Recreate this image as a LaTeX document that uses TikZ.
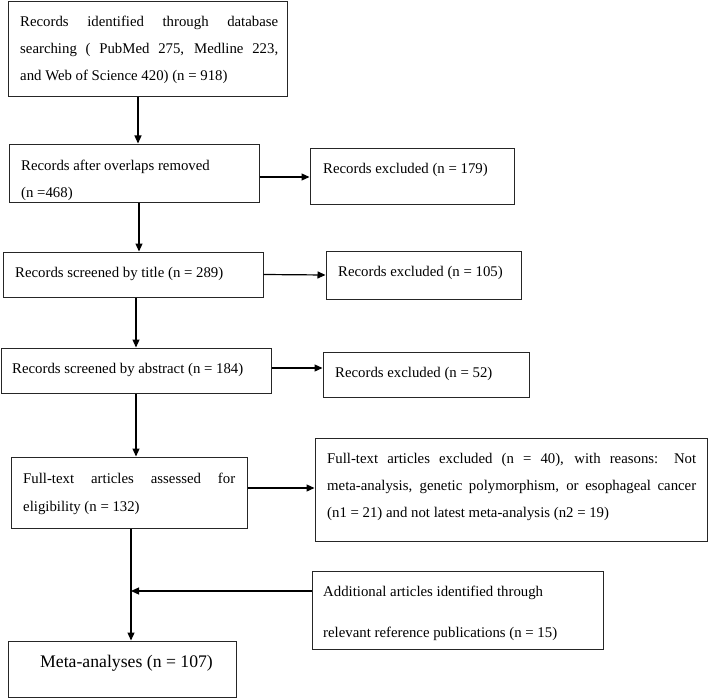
\documentclass[tikz,border=0pt]{standalone}
\usepackage{fontspec}
\setmainfont{Liberation Serif}
\usetikzlibrary{arrows.meta}
\newcommand{\jpar}[2]{\vtop{\hsize=#1\relax\parindent=0pt\tolerance=10000\hyphenpenalty=10000\rightskip=0pt\noindent #2}}
\tikzset{
  box/.style={draw=black!85, line width=1pt, inner sep=0pt, fill=none},
  txt/.style={inner sep=0pt, anchor=base west, font=\fontsize{14.8}{27}\selectfont},
  arr/.style={draw=black, line width=1.2pt, -{Triangle[length=8pt,width=7pt]}},
}
\begin{document}
\begin{tikzpicture}[x=1pt,y=-1pt]
\useasboundingbox (0,0) rectangle (709,698);
% boxes
\node[box, minimum width=279pt, minimum height=95pt] (b1) at (147.5,49.5) {};
\node[box, minimum width=250pt, minimum height=58pt] (b2) at (134,173) {};
\node[box, minimum width=204pt, minimum height=56pt] (b3) at (412,176) {};
\node[box, minimum width=260pt, minimum height=45pt] (b4) at (133,274.5) {};
\node[box, minimum width=195pt, minimum height=48pt] (b5) at (423.5,275) {};
\node[box, minimum width=270pt, minimum height=45pt] (b6) at (136,370.5) {};
\node[box, minimum width=206pt, minimum height=45pt] (b7) at (426,374.5) {};
\node[box, minimum width=236pt, minimum height=71pt] (b8) at (129,492.5) {};
\node[box, minimum width=392pt, minimum height=103pt] (b11) at (511,489.5) {};
\node[box, minimum width=291pt, minimum height=78pt] (b10) at (457.5,610) {};
\node[box, minimum width=228pt, minimum height=56pt] (b9) at (122,669) {};
% texts
\node[txt] (t1) at (20,27) {\jpar{258pt}{Records identified through database\linebreak searching ( PubMed 275, Medline 223,\linebreak and Web of Science 420) (n = 918)}};
\node[txt] (t2) at (21,170) {\jpar{236pt}{Records after overlaps removed\newline (n =468)}};
\node[txt] (t3) at (323,173) {Records excluded (n = 179)};
\node[txt] (t4) at (15,277) {Records screened by title (n = 289)};
\node[txt] (t5) at (338,276) {Records excluded (n = 105)};
\node[txt] (t6) at (12,373) {Records screened by abstract (n = 184)};
\node[txt] (t7) at (335,377) {Records excluded (n = 52)};
\node[txt, font=\fontsize{14.8}{28}\selectfont] (t8) at (23,483) {\jpar{212pt}{Full-text articles assessed for\linebreak eligibility (n = 132)}};
\node[txt, font=\fontsize{14.8}{27}\selectfont] (t11) at (327,463) {\jpar{369pt}{Full-text articles excluded (n = 40), with reasons: Not\linebreak meta-analysis, genetic polymorphism, or esophageal cancer\linebreak (n1 = 21) and not latest meta-analysis (n2 = 19)}};
\node[txt, font=\fontsize{14.8}{41}\selectfont] (t10) at (323,596) {\jpar{275pt}{Additional articles identified through\newline relevant reference publications (n = 15)}};
\node[txt, font=\fontsize{17.7}{21}\selectfont] (t9) at (40,667) {Meta-analyses (n = 107)};
% helper coordinates
\coordinate (v1) at (138,0);
\coordinate (v2) at (139,0);
\coordinate (v3) at (136,0);
\coordinate (v4) at (131,0);
\coordinate (h1) at (0,177);
\coordinate (h2) at (0,368);
\coordinate (h3) at (0,488);
\coordinate (h4) at (0,591);
% connectors
\draw[arr] (b1.south -| v1) -- (b2.north -| v1);
\draw[arr] (b2.east |- h1) -- (b3.west |- h1);
\draw[arr] (b2.south -| v2) -- (b4.north -| v2);
\draw[arr] (b4.east) -- (b5.west);
\draw[arr] (b4.south -| v3) -- (b6.north -| v3);
\draw[arr] (b6.east |- h2) -- (b7.west |- h2);
\draw[arr] (b6.south -| v3) -- (b8.north -| v3);
\draw[arr] (b8.east |- h3) -- (b11.west |- h3);
\draw[arr] (b8.south -| v4) -- (b9.north -| v4);
\draw[arr] (b10.west |- h4) -- (v4 |- h4);
\end{tikzpicture}
\end{document}
